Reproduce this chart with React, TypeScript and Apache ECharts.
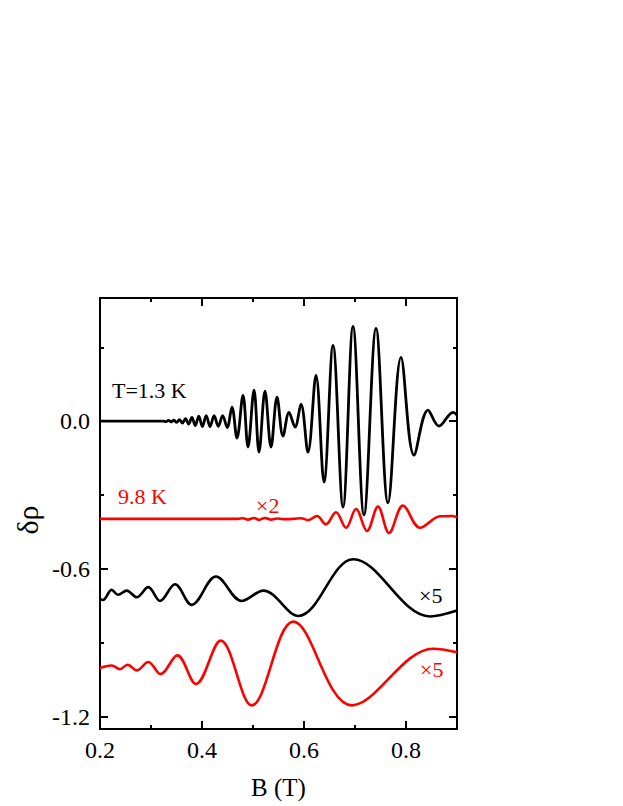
import React, { useEffect, useRef } from "react";
import * as echarts from "echarts";

const FONT = '"Liberation Serif", "Times New Roman", serif';

// axis ticks / labels
const xMajor = [0.2, 0.4, 0.6, 0.8];
const xMinor = [0.3, 0.5, 0.7, 0.9];
const yMajor = [-1.2, -0.6, 0.0];
const yMinor = [-0.9, -0.3, 0.3];

// T = 1.3 K  [B (T), δρ]
const t13 = [
  [0.2, 0], [0.324, 0],
  [0.3295, -0.002], [0.3344, 0.003], [0.3396, -0.003], [0.3448, 0.004],
  [0.3503, -0.005], [0.3559, 0.006], [0.3617, -0.008], [0.3676, 0.010],
  [0.3738, -0.012], [0.3802, 0.015], [0.3868, -0.018], [0.3937, 0.020],
  [0.4008, -0.022], [0.4082, 0.022], [0.4158, -0.022], [0.4237, 0.022],
  [0.432, -0.021], [0.4405, 0.022], [0.4494, -0.026], [0.4588, 0.057],
  [0.4686, -0.069], [0.4804, 0.105], [0.4902, -0.105], [0.502, 0.126],
  [0.5118, -0.126], [0.5235, 0.122], [0.5353, -0.105], [0.5471, 0.097],
  [0.5588, -0.061], [0.5706, 0.036], [0.5824, -0.024], [0.5941, 0.069],
  [0.6078, -0.126], [0.6235, 0.186], [0.6392, -0.247], [0.6569, 0.308],
  [0.6765, -0.349], [0.6961, 0.385], [0.7176, -0.381], [0.7412, 0.377],
  [0.7647, -0.332], [0.7902, 0.259], [0.8157, -0.138], [0.8431, 0.045],
  [0.8647, -0.020], [0.8922, 0.036], [0.9, 0.025],
];

// T = 9.8 K (x2)
const t98 = [
  [0.2, -0.397], [0.47, -0.397],
  [0.4804, -0.394], [0.4902, -0.400], [0.502, -0.393], [0.5118, -0.401],
  [0.5235, -0.393], [0.5353, -0.400], [0.5471, -0.395], [0.5588, -0.398],
  [0.58, -0.397], [0.5941, -0.394], [0.6078, -0.402], [0.6255, -0.385],
  [0.6431, -0.419], [0.6627, -0.370], [0.6824, -0.433], [0.702, -0.357],
  [0.7235, -0.446], [0.7451, -0.347], [0.7667, -0.454], [0.7941, -0.343],
  [0.8275, -0.433], [0.8667, -0.386], [0.8902, -0.385], [0.9, -0.390],
];

// low-frequency component, black (x5)
const lowBlack = [
  [0.2, -0.723], [0.2059, -0.726], [0.2229, -0.685], [0.2353, -0.705],
  [0.2524, -0.688], [0.272, -0.715], [0.2947, -0.674], [0.3176, -0.730],
  [0.3471, -0.662], [0.3798, -0.746], [0.4275, -0.631], [0.4778, -0.730],
  [0.5202, -0.688], [0.5888, -0.791], [0.6967, -0.561], [0.8471, -0.793],
  [0.9, -0.769],
];

// low-frequency component, red (x5)
const lowRed = [
  [0.2, -1.001], [0.2033, -1.000], [0.2229, -0.992], [0.2392, -1.007],
  [0.2541, -0.989], [0.272, -1.012], [0.2947, -0.978], [0.3188, -1.027],
  [0.3516, -0.951], [0.3882, -1.067], [0.4367, -0.891], [0.4975, -1.154],
  [0.579, -0.814], [0.6935, -1.154], [0.8535, -0.924], [0.9, -0.938],
];

const annotations = [
  { text: "T=1.3 K", x: 112, y: 390, color: "#000000" },
  { text: "9.8 K", x: 118, y: 496, color: "#ff0000" },
  { text: "×2", x: 256, y: 505, color: "#ff0000" },
  { text: "×5", x: 419, y: 595, color: "#000000" },
  { text: "×5", x: 420, y: 669, color: "#ff0000" },
];

const AX = { lineStyle: { color: "#000", width: 2 } };

function xAxisDef(position: "top" | "bottom", ticks: number[], len: number, labels: boolean, name?: string) {
  return {
    type: "value",
    position,
    min: 0.2,
    max: 0.9,
    axisLine: { show: true, onZero: false, ...AX },
    axisTick: { show: true, inside: true, length: len, customValues: ticks, lineStyle: { color: "#000", width: 2 } },
    axisLabel: labels
      ? { show: true, customValues: ticks, margin: 9, color: "#000", fontFamily: FONT, fontSize: 24, formatter: (v: number) => v.toFixed(1) }
      : { show: false, customValues: ticks },
    splitLine: { show: false },
    name: name || "",
    nameLocation: "middle",
    nameGap: 46,
    nameTextStyle: { color: "#000", fontFamily: FONT, fontSize: 25 },
  };
}

function yAxisDef(position: "left" | "right", ticks: number[], len: number, labels: boolean) {
  return {
    type: "value",
    position,
    min: -1.25,
    max: 0.5,
    axisLine: { show: true, onZero: false, ...AX },
    axisTick: { show: true, inside: true, length: len, customValues: ticks, lineStyle: { color: "#000", width: 2 } },
    axisLabel: labels
      ? { show: true, customValues: ticks, margin: 10, color: "#000", fontFamily: FONT, fontSize: 24, formatter: (v: number) => v.toFixed(1) }
      : { show: false, customValues: ticks },
    splitLine: { show: false },
  };
}

function lineSeries(data: number[][], color: string, width: number) {
  return {
    type: "line",
    data,
    xAxisIndex: 0,
    yAxisIndex: 0,
    showSymbol: false,
    symbol: "none",
    smooth: 0.36,
    lineStyle: { color, width },
    silent: true,
  };
}

export default function App() {
  const ref = useRef<HTMLDivElement>(null);
  useEffect(() => {
    if (!ref.current) return;
    const chart = echarts.init(ref.current, undefined, { renderer: "svg" });
    chart.setOption({
      animation: false,
      backgroundColor: "#ffffff",
      grid: { left: 100, right: 166, top: 298, bottom: 77 },
      xAxis: [
        xAxisDef("bottom", xMajor, 8, true, "B (T)"),
        xAxisDef("bottom", xMinor, 4, false),
        xAxisDef("top", xMajor, 8, false),
        xAxisDef("top", xMinor, 4, false),
      ],
      yAxis: [
        yAxisDef("left", yMajor, 8, true),
        yAxisDef("left", yMinor, 4, false),
        yAxisDef("right", yMajor, 8, false),
        yAxisDef("right", yMinor, 4, false),
      ],
      graphic: [
        {
          type: "text",
          x: 27,
          y: 520,
          rotation: Math.PI / 2,
          style: { text: "δρ", fill: "#000", font: `30px ${FONT}`, align: "center", verticalAlign: "middle" },
        },
        ...annotations.map((a) => ({
          type: "text",
          x: a.x,
          y: a.y,
          style: { text: a.text, fill: a.color, font: `22px ${FONT}`, align: "left", verticalAlign: "middle" },
        })),
      ],
      series: [
        lineSeries(t13, "#000000", 2.8),
        lineSeries(t98, "#ff0000", 2.6),
        lineSeries(lowBlack, "#000000", 2.6),
        lineSeries(lowRed, "#ff0000", 2.6),
      ],
    });
    return () => chart.dispose();
  }, []);
  return <div ref={ref} style={{ position: "fixed", left: 0, top: 0, width: 623, height: 806, background: "#fff" }} />;
}
